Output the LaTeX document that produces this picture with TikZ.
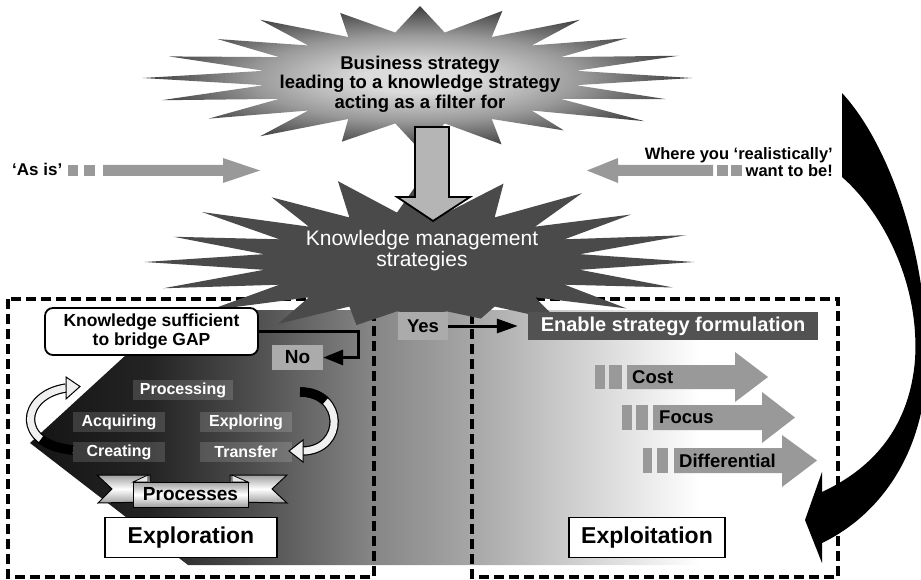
\documentclass[tikz,border=0pt]{standalone}
\usepackage{fontspec}
\setmainfont{Liberation Sans}
\usetikzlibrary{arrows.meta}
\definecolor{tbA}{gray}{0.86}
\definecolor{tbM}{gray}{0.6}
\definecolor{tbB}{gray}{0.24}
\pgfdeclareradialshading{tburst}{\pgfpoint{0bp}{0bp}}{color(0bp)=(tbA); color(5bp)=(tbA); color(15bp)=(tbM); color(25bp)=(tbB); color(50bp)=(tbB)}
\definecolor{bg0}{gray}{0.08}
\definecolor{bg1}{gray}{0.14}
\definecolor{bg2}{gray}{0.30}
\definecolor{bg3}{gray}{0.52}
\definecolor{bg4}{gray}{0.65}
\definecolor{bg5}{gray}{0.79}
\pgfdeclarehorizontalshading{bgshade}{100bp}{color(0bp)=(bg0); color(25bp)=(bg0); color(32.5bp)=(bg1); color(38.75bp)=(bg2); color(46.25bp)=(bg3); color(52.5bp)=(bg4); color(58.1bp)=(bg5); color(66.9bp)=(white); color(100bp)=(white)}
\definecolor{kmgray}{gray}{0.29}
\definecolor{arrowgray}{gray}{0.60}
\definecolor{arrowlight}{gray}{0.71}
\definecolor{labelgray}{gray}{0.67}
\definecolor{enablegray}{gray}{0.32}
\begin{document}
\begin{tikzpicture}[x=1pt,y=-1pt,
  dashbox/.style={line width=3.2pt, dash pattern=on 10pt off 5pt},
  item/.style={fill=white, fill opacity=0.15, text opacity=1, text=white,
    font=\bfseries\fontsize{16}{18}\selectfont, minimum width=92pt, minimum height=20pt, inner sep=0pt},
  lightlabel/.style={fill=labelgray, text=black, inner sep=0pt},
  conn/.style={line width=3pt},
  bigbox/.style={draw=black, fill=white, line width=1.2pt, inner sep=0pt, minimum height=40pt,
    font=\bfseries\fontsize{23}{25}\selectfont},
  ribbon/.style={double=gray!12, double distance=7pt, line width=1.2pt},
  ribbonhead/.style={fill=gray!12, draw=black, line width=1pt, line join=miter},
  metal/.style={top color=gray!75, bottom color=gray!75, middle color=white, draw=black, line width=1pt}
]
\useasboundingbox (0,0) rectangle (921,580);
\clip (0,0) rectangle (921,580);

% background gradient region
\shade[shading=bgshade] (175,310) -- (830,310) -- (830,565) -- (188,565) -- (30,443) -- cycle;

% dashed boxes
\draw[dashbox] (8,299) rectangle (374,577);
\draw[dashbox] (472,299) rectangle (838,577);

% top burst
\shade[shading=tburst] ({420+158*cos(-9)},{78+46*sin(-9)})
  \foreach \k/\f in {0/1.0,1/0.95,2/1.02,3/0.9,4/0.97,5/1.0,6/0.93,7/1.0,8/0.96,9/1.0,10/1.02,11/0.97,12/0.92,13/1.0,14/0.95,15/1.0,16/0.98,17/1.0,18/0.94,19/1.0}
  { -- ({420+272*\f*cos(18*\k)},{78+72*\f*sin(18*\k)}) -- ({420+158*cos(18*\k+9)},{78+46*sin(18*\k+9)}) } -- cycle;
\node[align=center, font=\bfseries\fontsize{18.5}{19.5}\selectfont] (biz) at (420,84)
  {Business strategy\\leading to a knowledge strategy\\acting as a filter for};

% bottom burst
\fill[kmgray] ({422+160*cos(-9)},{262+50*sin(-9)})
  \foreach \k/\f in {0/1.0,1/0.97,2/0.93,3/0.85,4/0.7,5/0.62,6/0.78,7/0.9,8/0.97,9/1.0,10/1.02,11/0.96,12/1.0,13/0.94,14/1.0,15/1.0,16/0.97,17/1.0,18/0.95,19/1.02}
  { -- ({422+272*\f*cos(18*\k)},{262+85*\f*sin(18*\k)}) -- ({422+160*cos(18*\k+9)},{262+50*sin(18*\k+9)}) } -- cycle;
\node[align=center, text=white, font=\fontsize{21}{21}\selectfont] (kms) at (422,251)
  {Knowledge management\\strategies};

% down arrow between bursts
\filldraw[fill=arrowlight, draw=black, line width=1.8pt, line join=miter]
  (415,127) -- (449,127) -- (449,197) -- (470,197) -- (433,221) -- (397,197) -- (415,197) -- cycle;

% 'As is' arrow
\node[anchor=base west, font=\bfseries\fontsize{17}{17}\selectfont, inner sep=0pt] (asis) at (12,176) {‘As is’};
\fill[arrowgray] (68,165) rectangle (78,176);
\fill[arrowgray] (84,165) rectangle (95,176);
\fill[arrowgray] (103,165) -- (223,165) -- (223,158) -- (260,170.5) -- (223,183) -- (223,176) -- (103,176) -- cycle;

% 'Where you realistically want to be' arrow
\node[anchor=east, align=right, font=\bfseries\fontsize{16.5}{17}\selectfont, inner sep=0pt] (where) at (833,162)
  {Where you ‘realistically’\\want to be!};
\fill[arrowgray] (717,165) rectangle (728,176);
\fill[arrowgray] (731,165) rectangle (742,176);
\fill[arrowgray] (713,165) -- (618,165) -- (618,158) -- (587,170.5) -- (618,183) -- (618,176) -- (713,176) -- cycle;

% big black curved arrow
\fill[black] (842,93) .. controls (895,150) and (935,280) .. (925,390)
  .. controls (915,470) and (870,520) .. (822,543) -- (822,563) -- (805,520) -- (822,472) -- (822,492)
  .. controls (880,465) and (910,420) .. (915,360)
  .. controls (920,280) and (880,210) .. (842,177) -- cycle;

% knowledge sufficient box and No / Yes
\node[draw=black, fill=white, line width=1.8pt, rounded corners=8pt, minimum width=213pt, minimum height=47pt,
  inner sep=0pt, align=center, font=\bfseries\fontsize{17.5}{18.5}\selectfont] (gap) at (151.5,331.5)
  {Knowledge sufficient\\to bridge GAP};
\node[lightlabel, minimum width=51pt, minimum height=25pt, font=\bfseries\fontsize{19}{19}\selectfont] (no) at (297.5,357.5) {No};
\coordinate (bend) at (358,331.5);
\draw[conn, -{Triangle[length=20pt,width=15pt]}] (gap.east) -- (bend) |- (no.east);

\node[lightlabel, minimum width=50pt, minimum height=28pt, font=\bfseries\fontsize{18.5}{18.5}\selectfont] (yes) at (423,326) {Yes};
\node[fill=enablegray, text=white, minimum width=290pt, minimum height=28pt, inner sep=0pt,
  font=\bfseries\fontsize{20}{20}\selectfont] (enable) at (673,326) {Enable strategy formulation};
\draw[conn, shorten >=10pt, -{Triangle[length=21pt,width=14pt]}] (yes.east) -- (enable.west);

% process items
\node[item, minimum width=100pt] (processing) at (183,390) {Processing};
\node[item] (acquiring) at (119,422) {Acquiring};
\node[item] (exploring) at (246,422) {Exploring};
\node[item] (creating) at (119,452) {Creating};
\node[item] (transfer) at (246,452) {Transfer};

% ribbon arrows around the items
\draw[ribbon] (73,450) .. controls (15,445) and (20,395) .. (66,388);
\draw[line width=9.4pt] (73,450) .. controls (58.5,448.75) and (47.94,444.69) .. (40.97,439.19);
\filldraw[ribbonhead] (66,377) -- (80,386.5) -- (66,399) -- cycle;
\draw[ribbon] (300,392) .. controls (345,392) and (345,450) .. (303,451);
\draw[line width=9.4pt] (300,392) .. controls (311.25,392) and (319.69,395.63) .. (325.36,401.08);
\filldraw[ribbonhead] (303,440) -- (289,451) -- (303,462) -- cycle;

% Processes banner
\path[metal] (97,475) -- (150,475) -- (150,502) -- (98,503) -- (112,489) -- cycle;
\path[metal] (287,475) -- (230,475) -- (230,502) -- (287,503) -- (272,489) -- cycle;
\filldraw[fill=gray!20, draw=black, line width=0.8pt] (133,482) -- (148,475) -- (148,482) -- cycle;
\filldraw[fill=gray!20, draw=black, line width=0.8pt] (248,482) -- (232,475) -- (232,482) -- cycle;
\node[metal, minimum width=115pt, minimum height=25pt, inner sep=0pt,
  font=\bfseries\fontsize{19}{19}\selectfont] (processes) at (190.5,494.5) {Processes};

% strategy arrows
\fill[arrowgray] (595,365) rectangle (605,389);
\fill[arrowgray] (609,365) rectangle (622,389);
\fill[arrowgray] (627,365) -- (735,365) -- (735,352) -- (768,377) -- (735,402) -- (735,389) -- (627,389) -- cycle;
\node[anchor=west, inner sep=0pt, font=\bfseries\fontsize{18.5}{18.5}\selectfont] (cost) at (632,377) {Cost};

\fill[arrowgray] (622,405) rectangle (632,430);
\fill[arrowgray] (636,405) rectangle (648,430);
\fill[arrowgray] (653,405) -- (762,405) -- (762,392) -- (795,417.5) -- (762,443) -- (762,430) -- (653,430) -- cycle;
\node[anchor=west, inner sep=0pt, font=\bfseries\fontsize{18.5}{18.5}\selectfont] (focus) at (659,417.5) {Focus};

\fill[arrowgray] (643,448) rectangle (652,473);
\fill[arrowgray] (657,448) rectangle (668,473);
\fill[arrowgray] (674,448) -- (782,448) -- (782,435) -- (817,460.5) -- (782,487) -- (782,473) -- (674,473) -- cycle;
\node[anchor=west, inner sep=0pt, font=\bfseries\fontsize{18.5}{18.5}\selectfont] (diff) at (679,460.5) {Differential};

% bottom labels
\node[bigbox, minimum width=172pt] (exploration) at (191,537.5) {Exploration};
\node[bigbox, minimum width=156pt] (exploitation) at (647,537.5) {Exploitation};
\end{tikzpicture}
\end{document}
